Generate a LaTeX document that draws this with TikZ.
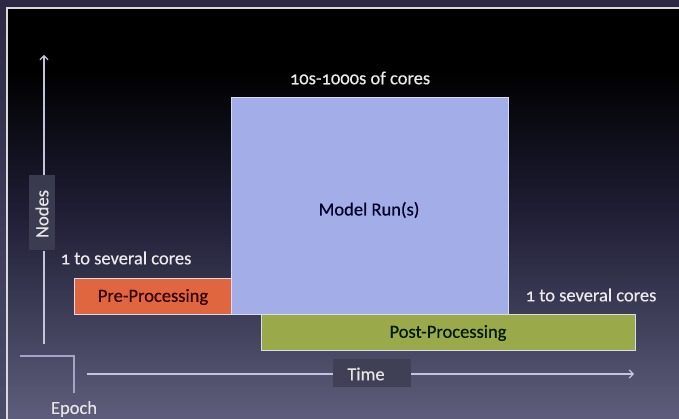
\documentclass[tikz,border=0pt]{standalone}
\usepackage{fontspec}
\setmainfont{Carlito}[Numbers=OldStyle, FakeBold=0.4]
\usetikzlibrary{arrows.meta}
\definecolor{outertop}{HTML}{2C2846}
\definecolor{outerbot}{HTML}{4C4C6A}
\definecolor{innermid}{HTML}{1E1D34}
\definecolor{innerbot}{HTML}{5E5E7C}
\definecolor{modelfill}{HTML}{A3AEE8}
\definecolor{prefill}{HTML}{E0663F}
\definecolor{postfill}{HTML}{9AAA4A}
\definecolor{axiscol}{HTML}{C4C4DC}
\definecolor{cornercol}{HTML}{A4A4C8}
\definecolor{tagfill}{HTML}{3E3E54}
\definecolor{boxedge}{HTML}{D8DCF0}
\begin{document}
\begin{tikzpicture}[x=1pt,y=-1pt,
  every node/.style={font=\fontsize{18.5}{20}\selectfont},
  phase/.style={draw=boxedge, line width=0.8pt, inner sep=0pt},
  lbl/.style={text=white!92!black},
  tag/.style={fill=tagfill, opacity=0.9, text opacity=1, text=white!90!black, inner sep=0pt},
  axis/.style={draw=axiscol, line width=1.2pt},
  tip/.style={-{Straight Barb[length=4pt,width=8pt,line width=1.2pt]}}]
\useasboundingbox (0,0) rectangle (679,419);
% background
\shade[top color=outertop, bottom color=outerbot] (0,0) rectangle (679,419);
\fill[black] (7,8) rectangle (679,70);
\shade[top color=black, bottom color=innermid] (7,70) rectangle (679,210);
\shade[top color=innermid, bottom color=innerbot] (7,210) rectangle (679,419);
\draw[white!85!black, line width=1.5pt] (7,419) -- (7,8) -- (679,8);
% boxes
\node[phase, fill=modelfill, minimum width=277pt, minimum height=217pt, anchor=north west] (model) at (231,97) {};
\node[text=black!85!blue] (modeltxt) at (369,210) {Model Run(s)};
\node[phase, fill=prefill, minimum width=157pt, minimum height=36pt, anchor=north west] (pre) at (74,278) {};
\node[text=black!80!red] (pretxt) at (153,297) {Pre-Processing};
\node[phase, fill=postfill, minimum width=374pt, minimum height=36pt, anchor=north west] (post) at (261,314) {};
\node[text=black!90!green] (posttxt) at (448,333) {Post-Processing};
% labels
\node[lbl] (lbltop) at (360,78) {10s-1000s of cores};
\node[lbl] (lblpre) at (126,258) {1 to several cores};
\node[lbl] (lblpost) at (591,295) {1 to several cores};
% axes
\node[tag, minimum width=26pt, minimum height=75pt] (nodes) at (42,213) {};
\node[text=white!90!black, rotate=90] (nodestxt) at (42,214) {Nodes};
\coordinate (ytop) at (44,55);
\coordinate (ybot) at (44,344);
\draw[axis, tip] (nodes.north -| ytop) -- (ytop);
\draw[axis] (nodes.south -| ybot) -- (ybot);
\node[tag, minimum width=78pt, minimum height=28pt] (time) at (372,373) {};
\node[text=white!90!black] (timetxt) at (366,374) {Time};
\coordinate (xleft) at (87,374);
\coordinate (xright) at (634,374);
\draw[axis] (xleft) -- (time.west |- xleft);
\draw[axis, tip] (time.east |- xright) -- (xright);
% epoch corner
\coordinate (ec1) at (20,356);
\coordinate (ec2) at (74,356);
\coordinate (ec3) at (74,393);
\draw[draw=cornercol, line width=1.2pt] (ec1) -- (ec2) -- (ec3);
\node[text=white!90!black] (epoch) at (74,409) {Epoch};
\end{tikzpicture}
\end{document}
